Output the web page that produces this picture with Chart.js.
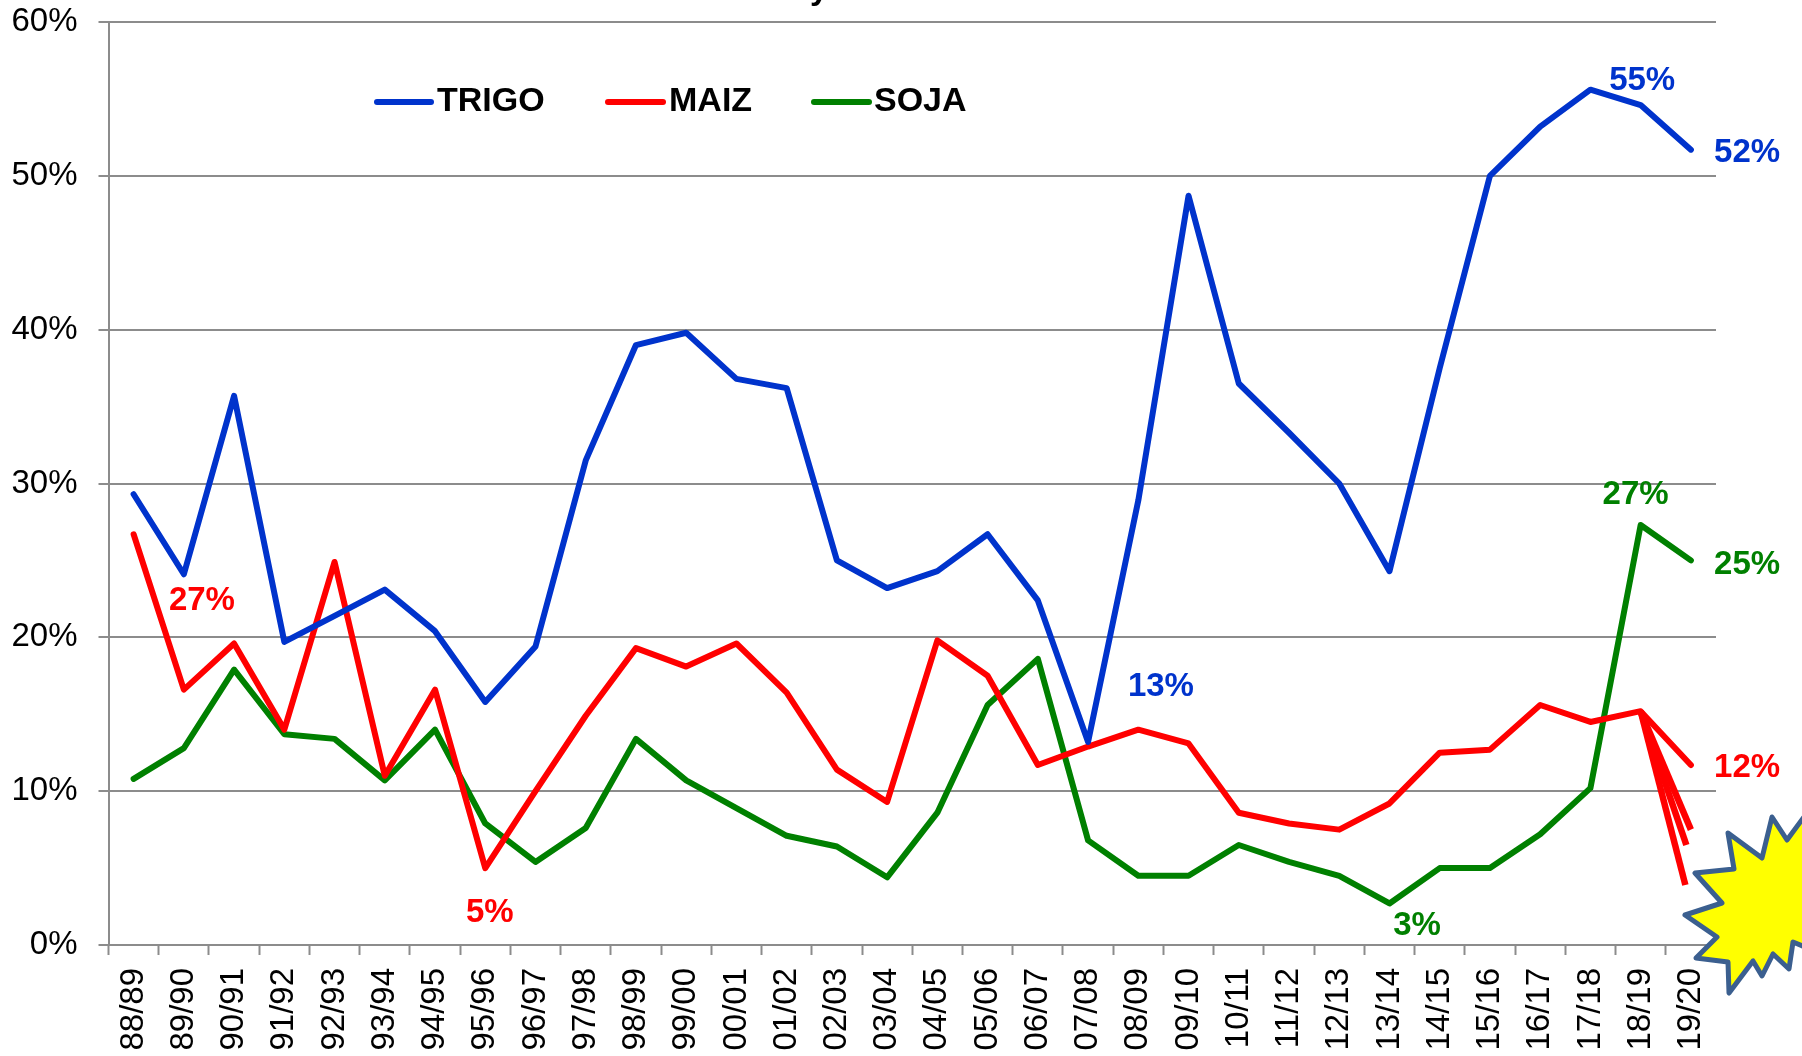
<!DOCTYPE html>
<html>
<head>
<meta charset="utf-8">
<style>
html,body{margin:0;padding:0;background:#fff;overflow:hidden}
#wrap{position:relative;width:1802px;height:1056px}
</style>
<script src="https://cdn.jsdelivr.net/npm/chart.js@4/dist/chart.umd.min.js"></script>
</head>
<body>
<div id="wrap"><canvas id="c" width="1802" height="1056"></canvas></div>
<script>
const campaigns = ["88/89","89/90","90/91","91/92","92/93","93/94","94/95","95/96","96/97","97/98","98/99","99/00","00/01","01/02","02/03","03/04","04/05","05/06","06/07","07/08","08/09","09/10","10/11","11/12","12/13","13/14","14/15","15/16","16/17","17/18","18/19","19/20"];
const trigo = [29.3,24.1,35.7,19.7,21.4,23.1,20.4,15.8,19.4,31.5,39,39.8,36.8,36.2,25,23.2,24.3,26.7,22.4,13.2,28.9,48.7,36.5,33.3,30,24.3,37.5,50,53.2,55.6,54.6,51.7];
const maiz = [26.7,16.6,19.6,14,24.9,11,16.6,5,10,14.9,19.3,18.1,19.6,16.4,11.4,9.3,19.8,17.5,11.7,12.9,14,13.1,8.6,7.9,7.5,9.2,12.5,12.7,15.6,14.5,15.2,11.7];
const soja = [10.8,12.8,17.9,13.7,13.4,10.7,14,7.9,5.4,7.6,13.4,10.7,8.9,7.1,6.4,4.4,8.6,15.6,18.6,6.8,4.5,4.5,6.5,5.4,4.5,2.7,5,5,7.2,10.2,27.3,25];
const maizDropFrom = 15.2;
const maizDropTo = [7.5,6.5,3.9];
const maizDropCampaign = [31,30.91,30.89];
const yTicks = [0,10,20,30,40,50,60];

const BLUE="#0033cc", RED="#ff0000", GREEN="#008000", GREY="#8c8c8c";

// value notes placed in data space: text, colour, campaign index, value
const notes = [
  ["55%",BLUE,30.03,56.15],["52%",BLUE,32.12,51.5],["13%",BLUE,20.45,16.75],
  ["27%",RED,1.36,22.4],["5%",RED,7.09,2.1],["12%",RED,32.12,11.5],
  ["27%",GREEN,29.9,29.25],["25%",GREEN,32.12,24.7],["3%",GREEN,25.55,1.25]
];

const decor = {
  id:"decor",
  afterDatasetsDraw(chart){
    const {ctx,scales}=chart, x=scales.xDrop, y=scales.y;
    ctx.save();
    ctx.textAlign="center"; ctx.textBaseline="middle";
    ctx.font='bold 33px "Liberation Sans", Arial, sans-serif';
    notes.forEach(([t,c,i,v])=>{ctx.fillStyle=c;ctx.fillText(t,x.getPixelForValue(i),y.getPixelForValue(v));});

    // legend
    const entries=[[377,431,437,0],[608,663,669,1],[814,869,874,2]];
    ctx.textAlign="left"; ctx.lineCap="round"; ctx.lineWidth=6;
    ctx.font='bold 34px "Liberation Sans", Arial, sans-serif';
    entries.forEach(([a,b,tx,k])=>{
      const d=chart.data.datasets[k];
      ctx.strokeStyle=d.borderColor;
      ctx.beginPath();ctx.moveTo(a,102);ctx.lineTo(b,102);ctx.stroke();
      ctx.fillStyle="#000";ctx.fillText(d.label,tx,102);
    });

    // remainder of the cut-off heading
    ctx.font='bold 33px "Liberation Sans", Arial, sans-serif';
    ctx.textBaseline="alphabetic";
    ctx.fillText("y",810,-1);

    // burst
    const star=[[1728,833],[1762,858],[1772,817],[1787,840],[1812,806],[1812,950],[1793,942],[1789,969],[1773,954],[1762,976],[1753,961],[1729,993],[1728,962],[1696,958],[1717,937],[1685,915],[1722,903],[1695,873],[1734,869]];
    ctx.beginPath();
    star.forEach((p,i)=>i?ctx.lineTo(p[0],p[1]):ctx.moveTo(p[0],p[1]));
    ctx.closePath();
    ctx.fillStyle="#ffff00";ctx.fill();
    ctx.strokeStyle="#3b5f8f";ctx.lineWidth=5;ctx.lineJoin="round";ctx.stroke();
    ctx.restore();
  }
};

const line=(label,data,color)=>({label,data,borderColor:color,backgroundColor:color,borderWidth:6,pointRadius:0,tension:0,borderCapStyle:"round",borderJoinStyle:"round",clip:false,xAxisID:"x",yAxisID:"y"});
const drops=maizDropTo.map((v,i)=>({label:"MAIZ "+(i+1),data:[{x:30,y:maizDropFrom},{x:maizDropCampaign[i],y:v}],borderColor:RED,borderWidth:6.5,pointRadius:0,borderCapStyle:"butt",clip:false,xAxisID:"xDrop",yAxisID:"y"}));

new Chart(document.getElementById("c"),{
  type:"line",
  data:{labels:campaigns,datasets:[line("TRIGO",trigo,BLUE),line("MAIZ",maiz,RED),line("SOJA",soja,GREEN),...drops]},
  plugins:[decor],
  options:{
    responsive:false,animation:false,devicePixelRatio:1,
    layout:{padding:{left:0,right:86,top:22,bottom:0}},
    plugins:{legend:{display:false},title:{display:false},tooltip:{enabled:false}},
    scales:{
      x:{
        type:"category",offset:true,
        afterFit(s){s.height=111;s.paddingLeft=0;s.paddingRight=0;s.paddingTop=0;s.paddingBottom=0;},
        border:{color:GREY,width:2},
        grid:{offset:true,drawOnChartArea:false,drawTicks:true,tickLength:10,tickWidth:2,tickColor:c=>c.index===undefined?"transparent":GREY},
        ticks:{autoSkip:false,minRotation:90,maxRotation:90,padding:13,labelOffset:0,color:"#000",font:{family:'"Liberation Sans", Arial, sans-serif',size:33}}
      },
      xDrop:{type:"linear",display:false,min:-0.5,max:31.5,afterFit(s){s.height=0;s.paddingTop=0;s.paddingBottom=0;}},
      y:{
        min:0,max:60,
        afterFit(s){s.width=108.5;s.paddingTop=0;s.paddingBottom=0;},
        afterBuildTicks(s){s.ticks=yTicks.map(value=>({value}));},
        border:{color:GREY,width:2},
        grid:{color:GREY,lineWidth:2,tickLength:10,tickColor:GREY},
        ticks:{padding:21,color:"#000",font:{family:'"Liberation Sans", Arial, sans-serif',size:33},callback:v=>v+"%"}
      }
    }
  }
});
</script>
</body>
</html>
